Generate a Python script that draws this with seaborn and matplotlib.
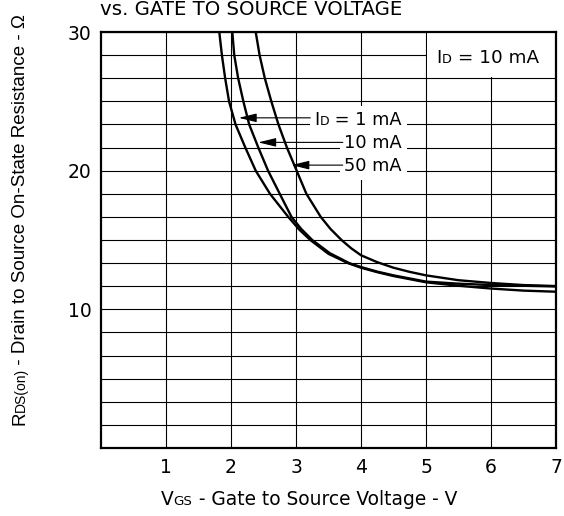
import numpy as np
import pandas as pd
import matplotlib
matplotlib.use("Agg")
import matplotlib.pyplot as plt
import seaborn as sns
from matplotlib.patches import Rectangle
from matplotlib.offsetbox import TextArea, HPacker, AnnotationBbox
from matplotlib.transforms import IdentityTransform

# ---- data ----
vgs_1ma = [1.82, 1.86, 1.91, 1.97, 2.07, 2.22, 2.38, 2.60, 2.88, 3.05, 3.22, 3.50, 3.80, 4.00, 4.25,
           4.50, 5.00, 5.50, 6.00, 6.50, 7.00]
r_1ma = [30.0, 28.33, 26.67, 25.0, 23.33, 21.67, 20.0, 18.33, 16.67, 15.75, 15.0, 14.0, 13.33, 13.0, 12.68,
         12.4, 11.95, 11.7, 11.5, 11.35, 11.27]

vgs_10ma = [2.02, 2.05, 2.11, 2.19, 2.28, 2.42, 2.57, 2.75, 2.93, 3.08, 3.25, 3.52, 3.82, 4.00, 4.25,
            4.50, 5.00, 5.50, 6.00, 6.50, 7.00]
r_10ma = [30.0, 28.33, 26.67, 25.0, 23.33, 21.67, 20.0, 18.33, 16.67, 15.8, 15.0, 14.05, 13.33, 13.05, 12.72,
          12.45, 12.0, 11.85, 11.75, 11.7, 11.65]

vgs_50ma = [2.38, 2.44, 2.52, 2.62, 2.73, 2.86, 3.01, 3.16, 3.38, 3.53, 3.70, 3.85, 4.00, 4.25, 4.50,
            4.75, 5.00, 5.50, 6.00, 6.50, 7.00]
r_50ma = [30.0, 28.33, 26.67, 25.0, 23.33, 21.67, 20.0, 18.33, 16.67, 15.8, 15.0, 14.4, 13.9, 13.4, 13.0,
          12.7, 12.45, 12.1, 11.9, 11.75, 11.68]

curve_names = ["1 mA", "10 mA", "50 mA"]
x_ticks = [1, 2, 3, 4, 5, 6, 7]
y_ticks = [10, 20, 30]

df = pd.concat([
    pd.DataFrame({"vgs": vgs_1ma, "r": r_1ma, "id": curve_names[0]}),
    pd.DataFrame({"vgs": vgs_10ma, "r": r_10ma, "id": curve_names[1]}),
    pd.DataFrame({"vgs": vgs_50ma, "r": r_50ma, "id": curve_names[2]}),
], ignore_index=True)

sns.set_theme(style="white")
plt.rcParams["font.family"] = ["DejaVu Sans"]

W, H = 564, 516
fig = plt.figure(figsize=(W / 100, H / 100), dpi=100)
ax = fig.add_axes([101 / W, 1 - 448 / H, 455 / W, 416 / H])

sns.lineplot(data=df, x="vgs", y="r", hue="id", palette=["black"] * 3,
             sort=False, estimator=None, legend=False, linewidth=1.7, ax=ax, zorder=3)

ax.set_xlim(0, 7)
ax.set_ylim(0, 30)
ax.set_xticks(x_ticks)
ax.set_yticks(y_ticks)
ax.set_yticks(np.arange(1, 18) * 5 / 3, minor=True)
ax.tick_params(which="both", length=0, labelsize=13.5, pad=7, colors="black")
ax.set_xlabel("")
ax.set_ylabel("")
ax.grid(True, which="major", axis="x", color="black", lw=0.8)
ax.grid(True, which="both", axis="y", color="black", lw=0.8)
ax.set_axisbelow(True)
for s in ax.spines.values():
    s.set_visible(True)
    s.set_color("black")
    s.set_linewidth(1.6)

# white box for the test-condition note
ax.add_patch(Rectangle((5.015, 26.67 + 0.08), 2, 3.4, facecolor="white", edgecolor="none", zorder=1))


def packed(pieces):
    return HPacker(children=[TextArea(s, textprops=dict(fontsize=fs, color="black"))
                             for s, fs in pieces], align="baseline", pad=0, sep=0)


note = AnnotationBbox(packed([("I", 13.2), ("D", 9.2), (" = 10 mA", 13.2)]), (5.95, 28.1),
                      xycoords="data", box_alignment=(0.5, 0.5), frameon=False, zorder=2)
ax.add_artist(note)

label_pieces = [[("I", 12.8), ("D", 9), (" = 1 mA", 12.8)], [("10 mA", 12.8)], [("50 mA", 12.8)]]
label_pos = [(4.63, 23.65), (4.63, 21.99), (4.63, 20.33)]
arrow_tail = [(3.22, 23.81), (3.72, 22.04), (3.72, 20.40)]
arrow_tip = [(2.12, 23.81), (2.42, 22.04), (2.93, 20.40)]
for pcs, pos, tail, tip in zip(label_pieces, label_pos, arrow_tail, arrow_tip):
    ab = AnnotationBbox(packed(pcs), pos, xycoords="data", box_alignment=(1.0, 0.5),
                        frameon=True, pad=0.3,
                        bboxprops=dict(facecolor="white", edgecolor="none"), zorder=2)
    ax.add_artist(ab)
    ax.annotate("", xy=tip, xytext=tail, xycoords="data",
                arrowprops=dict(arrowstyle="-|>,head_length=0.9,head_width=0.22",
                                mutation_scale=12, color="black", lw=0.8,
                                shrinkA=0, shrinkB=0), zorder=4)

# composed labels with small-size subscripts on the baseline
renderer = fig.canvas.get_renderer()


def compose(x, y, pieces, rotation=0, family=None, adjust=None):
    off = 0.0
    fam = family if family else plt.rcParams["font.family"]
    for i, (s, fs) in enumerate(pieces):
        t = fig.text(0, 0, s, fontsize=fs, family=fam, transform=IdentityTransform())
        w = t.get_window_extent(renderer).width
        t.remove()
        if adjust:
            off += adjust[i]
        if rotation == 0:
            fig.text(x + off, y, s, fontsize=fs, ha="left", va="baseline", family=fam,
                     color="black", transform=IdentityTransform())
        else:
            fig.text(x, y + off, s, fontsize=fs, rotation=90, rotation_mode="anchor", family=fam,
                     ha="left", va="baseline", color="black", transform=IdentityTransform())
        off += w


compose(161, H - 505, [("V", 13.4), ("GS", 9.6), (" - Gate to Source Voltage - V", 13.4)])
compose(25, H - 425, [("R", 13.5), ("DS(on)", 10),
                      (" - Drain to Source On-State Resistance - \u03a9", 13.5)], rotation=90,
        family=["Liberation Sans", "DejaVu Sans"], adjust=[0, 0, -3])
fig.text(100, H - 15, "vs. GATE TO SOURCE VOLTAGE", fontsize=14.2, ha="left", va="baseline",
         color="black", transform=IdentityTransform())

fig.savefig("out.png", dpi=100)
